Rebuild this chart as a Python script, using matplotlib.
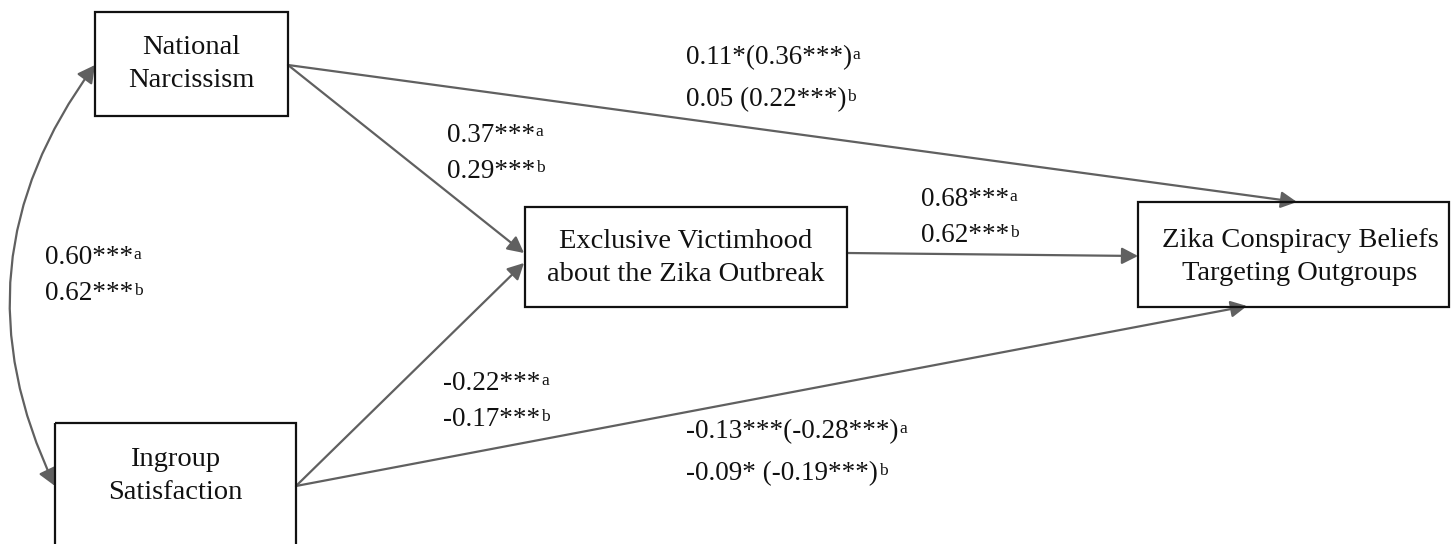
import matplotlib
matplotlib.use("Agg")
import matplotlib.pyplot as plt
from matplotlib.patches import Rectangle, FancyArrowPatch

plt.rcParams['font.family'] = ['Liberation Serif', 'DejaVu Serif']

# node labels
nodes = {
    "nn": "National\nNarcissism",
    "is": "Ingroup\nSatisfaction",
    "ev": "Exclusive Victimhood\nabout the Zika Outbreak",
    "zk": "Zika Conspiracy Beliefs\nTargeting Outgroups",
}

# path coefficients (study a, study b)
coef_nn_zk = ["0.11*(0.36***)", "0.05 (0.22***)"]
coef_nn_ev = ["0.37***", "0.29***"]
coef_ev_zk = ["0.68***", "0.62***"]
coef_nn_is = ["0.60***", "0.62***"]
coef_is_ev = ["-0.22***", "-0.17***"]
coef_is_zk = ["-0.13***(-0.28***)", "-0.09* (-0.19***)"]
study_marks = ["a", "b"]

# box geometry in pixel coords (x0, y0, x1, y1)
boxes = {
    "nn": (95, 12, 288, 116),
    "is": (55, 423, 296, 570),
    "ev": (525, 207, 847, 307),
    "zk": (1138, 202, 1449, 307),
}
text_centers = {"nn": (191, 64), "is": (175, 476), "ev": (686, 258), "zk": (1300, 257)}

fig = plt.figure(figsize=(14.51, 5.44), dpi=100)
ax = fig.add_axes([0, 0, 1, 1])
ax.set_xlim(0, 1451)
ax.set_ylim(544, 0)
ax.axis('off')

for k, (x0, y0, x1, y1) in boxes.items():
    ax.add_patch(Rectangle((x0, y0), x1 - x0, y1 - y0, fill=False,
                           edgecolor='#111111', lw=1.6, zorder=3))
    cx, cy = text_centers[k]
    ax.text(cx, cy, nodes[k], ha='center', va='center', fontsize=20.5,
            linespacing=1.42, color='#111111', zorder=4)

arrow_col = '#606060'
style = "-|>,head_length=0.7,head_width=0.36"


def arrow(p0, p1, st=style, conn="arc3,rad=0"):
    ax.add_patch(FancyArrowPatch(p0, p1, arrowstyle=st, connectionstyle=conn,
                                 mutation_scale=14, color=arrow_col, lw=1.6,
                                 shrinkA=0, shrinkB=0, zorder=2))


arrow((288, 65), (1297, 202))
arrow((288, 65), (524, 253))
arrow((296, 486), (524, 263))
arrow((296, 486), (1247, 306))
arrow((847, 253), (1138, 256))
arrow((55, 486), (95, 65), st="<|-|>,head_length=0.75,head_width=0.4",
      conn="arc3,rad=-0.3")


def coef_label(x, y, lines, dy=42):
    for i, (txt, mark) in enumerate(zip(lines, study_marks)):
        t = ax.text(x, y + i * dy, txt, ha='left', va='center', fontsize=19.5,
                    color='#111111', zorder=4)
        ax.annotate(mark, xy=(1, 1), xycoords=t, xytext=(0.5, -1),
                    textcoords='offset points', ha='left', va='top',
                    fontsize=12.5, color='#111111', zorder=4)


coef_label(686, 58, coef_nn_zk)
coef_label(447, 135, coef_nn_ev, dy=36)
coef_label(921, 200, coef_ev_zk, dy=36)
coef_label(45, 258, coef_nn_is, dy=36)
coef_label(443, 384, coef_is_ev, dy=36)
coef_label(686, 432, coef_is_zk)

fig.savefig("out.png", dpi=100)
